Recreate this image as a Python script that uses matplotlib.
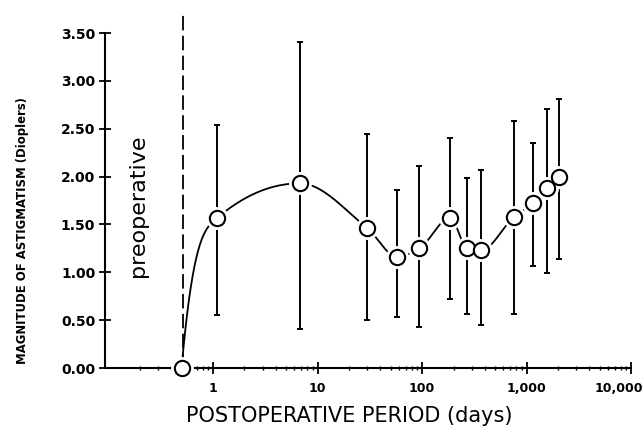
import numpy as np
import matplotlib
matplotlib.use("Agg")
import matplotlib.pyplot as plt
import matplotlib.transforms as mtransforms
from matplotlib.ticker import FixedLocator, LogLocator, NullFormatter

# ---- data ----
preop_day = 0.5
preop_value = 0.0
days = [1.1, 6.8, 30, 58, 94, 186, 270, 366, 760, 1150, 1580, 2050]
mean = [1.57, 1.93, 1.46, 1.16, 1.25, 1.57, 1.25, 1.23, 1.58, 1.72, 1.88, 2.00]
bar_top = [2.54, 3.41, 2.45, 1.86, 2.11, 2.40, 1.99, 2.07, 2.58, 2.35, 2.71, 2.81]
bar_bottom = [0.55, 0.41, 0.50, 0.53, 0.43, 0.72, 0.57, 0.45, 0.56, 1.07, 0.99, 1.14]

xticks = [1, 10, 100, 1000, 10000]
xticklabels = ["1", "10", "100", "1,000", "10,000"]
yticks = [0.0, 0.5, 1.0, 1.5, 2.0, 2.5, 3.0, 3.5]
yticklabels = ["0.00", "0.50", "1.00", "1.50", "2.00", "2.50", "3.00", "3.50"]

# ---- smooth connecting curve (Hermite, log-x space) ----
xs = np.log10(np.array([preop_day] + days))
ys = np.array([preop_value] + mean)
h = np.diff(xs)
d = np.diff(ys) / h
m = np.zeros_like(ys)
for i in range(1, len(ys) - 1):
    if d[i - 1] * d[i] <= 0:
        m[i] = 0.0
    else:
        w1 = 2 * h[i] + h[i - 1]
        w2 = h[i] + 2 * h[i - 1]
        m[i] = (w1 + w2) / (w1 / d[i - 1] + w2 / d[i])
m[0] = 2.7 * d[0]
m[-1] = d[-1]
cx, cy = [], []
for i in range(len(h)):
    t = np.linspace(0, 1, 60)
    h00 = 2 * t**3 - 3 * t**2 + 1
    h10 = t**3 - 2 * t**2 + t
    h01 = -2 * t**3 + 3 * t**2
    h11 = t**3 - t**2
    cx.extend(xs[i] + t * h[i])
    cy.extend(h00 * ys[i] + h10 * h[i] * m[i] + h01 * ys[i + 1] + h11 * h[i] * m[i + 1])
cx = 10 ** np.array(cx)
cy = np.array(cy)

fig = plt.figure(figsize=(6.42, 4.29), dpi=100)
ax = fig.add_axes([0.1636, 0.142, 0.8194, 0.781])
ax.set_xscale("log")
ax.set_xlim(0.0926, 10000)
ax.set_ylim(0, 3.5)

lw = 1.3
ax.plot(cx, cy, color="black", lw=lw, zorder=2, clip_on=False)

# error bars
yerr = [np.array(mean) - np.array(bar_bottom), np.array(bar_top) - np.array(mean)]
ax.errorbar(days, mean, yerr=yerr, fmt="none", ecolor="black", elinewidth=1.4,
            capsize=2.5, capthick=1.4, zorder=2)

# white halo + open circles
allx = [preop_day] + days
ally = [preop_value] + mean
ax.plot(allx, ally, "o", ms=14, mfc="white", mec="white", mew=2.5, ls="none",
        zorder=3, clip_on=False)
ax.plot(allx, ally, "o", ms=11, mfc="white", mec="black", mew=1.5, ls="none",
        zorder=4, clip_on=False)

# preoperative dashed line
ax.plot([0.52, 0.52], [0.0, 3.71], color="black", lw=1.3, ls=(0, (8, 3)),
        zorder=1, clip_on=False)
ax.text(0.19, 1.70, "preoperative", rotation=90, fontsize=16, ha="center",
        va="center", color="black")

# axes styling
for s in ["top", "right"]:
    ax.spines[s].set_visible(False)
ax.spines["left"].set_linewidth(1.5)
ax.spines["bottom"].set_linewidth(1.5)

ax.xaxis.set_major_locator(FixedLocator(xticks))
ax.set_xticklabels(xticklabels, fontsize=9, fontweight="bold")
ax.xaxis.set_minor_locator(LogLocator(base=10, subs=np.arange(2, 10)))
ax.xaxis.set_minor_formatter(NullFormatter())
ax.set_yticks(yticks)
ax.set_yticklabels(yticklabels, fontsize=10, fontweight="bold")

ax.tick_params(axis="x", which="major", direction="inout", length=8, width=1.3, pad=6)
ax.tick_params(axis="x", which="minor", direction="inout", length=3, width=1.0)
ax.tick_params(axis="y", which="major", direction="inout", length=8, width=1.3, pad=3)

# shift the last x tick label left so it stays inside the figure
last = ax.get_xticklabels()[-1]
last.set_transform(last.get_transform() +
                   mtransforms.ScaledTranslation(-12 / 100, 0, fig.dpi_scale_trans))

ax.set_xlabel("POSTOPERATIVE PERIOD (days)", fontsize=15)
ax.xaxis.set_label_coords(0.464, -0.143)
ax.xaxis.label.set_va("center")
ax.set_ylabel("MAGNITUDE OF ASTIGMATISM (Dioplers)", fontsize=8.4, fontweight="bold")
ax.yaxis.set_label_coords(-0.156, 0.41)
ax.yaxis.label.set_va("center")

fig.savefig("out.png", dpi=100)
